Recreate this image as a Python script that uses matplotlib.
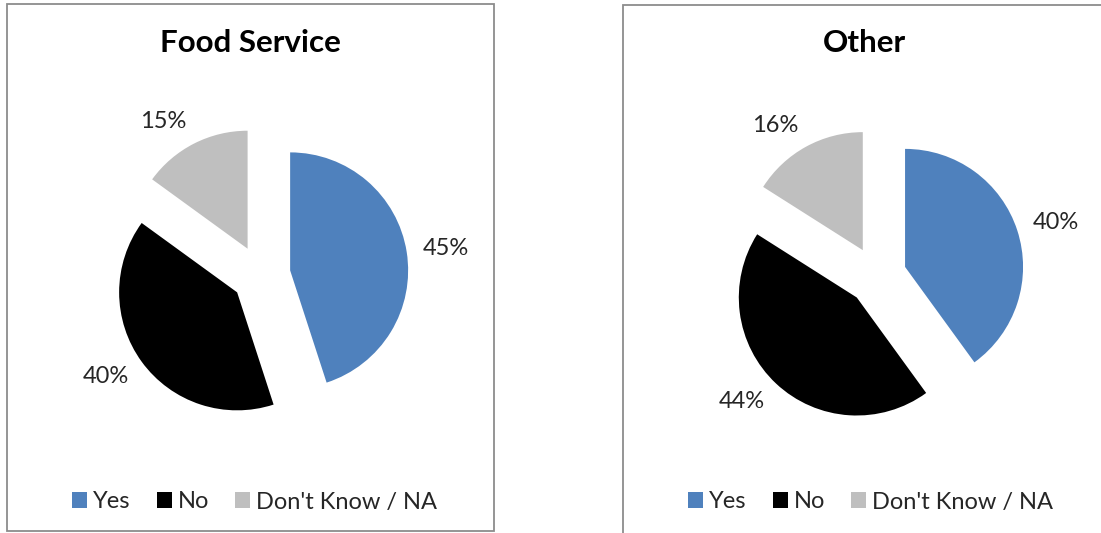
import numpy as np
import matplotlib.pyplot as plt
from matplotlib.patches import Rectangle

categories = ['Yes', 'No', "Don't Know / NA"]
colors = ['#4F81BD', '#000000', '#BFBFBF']

titles = ['Food Service', 'Other']
food_service = [45, 40, 15]
other = [40, 44, 16]

W, H = 1101, 533
plt.rcParams['font.family'] = ['Lato', 'DejaVu Sans']

fig = plt.figure(figsize=(W / 100, H / 100), dpi=100)

# panel frames (pixel coords, y from top)
panels = [(7, 4, 494, 531), (623, 5, 1120, 545)]
for x0, y0, x1, y1 in panels:
    fig.add_artist(Rectangle((x0 / W, 1 - y1 / H), (x1 - x0) / W, (y1 - y0) / H,
                             transform=fig.transFigure, fill=False,
                             edgecolor='#8c8c8c', lw=1.3, clip_on=False))

# pie centres (px) and radius
centres = [(261, 275), (877, 276)]
title_x = [250.5, 864]
legend_x = [254.5, 870.5]
r = 118
half = 160
explode = 0.25

for vals, title, (cx, cy), tx, lx in zip([food_service, other], titles, centres,
                                         title_x, legend_x):
    ax = fig.add_axes([(cx - half) / W, (H - cy - half) / H, 2 * half / W, 2 * half / H])
    wedges, _ = ax.pie(vals, colors=colors, startangle=90, counterclock=False,
                       explode=[explode] * 3, wedgeprops={'linewidth': 0})
    # outside-end labels, excel style
    for w, v in zip(wedges, vals):
        th = np.deg2rad((w.theta1 + w.theta2) / 2)
        c, s = np.cos(th), np.sin(th)
        d = explode + 1 + 16 / r
        ax.text(d * c, d * s + 8.5 / r * s, f'{v}%', ha='left' if c > 0 else 'right',
                va='center', fontsize=17, color='#262626')
    lim = half / r
    ax.set_xlim(-lim, lim)
    ax.set_ylim(-lim, lim)
    ax.set_aspect('equal')
    ax.axis('off')
    fig.text(tx / W, 1 - 42.5 / H, title, ha='center', va='center',
             fontsize=22.6, fontweight='bold', color='#000000')
    fig.legend(wedges, categories, loc='center', bbox_to_anchor=(lx / W, 1 - 502 / H),
               ncol=3, frameon=False, fontsize=17, handlelength=0.64, handleheight=0.64,
               handletextpad=0.25, columnspacing=1.1, labelcolor='#262626')

fig.savefig('out.png', dpi=100)
